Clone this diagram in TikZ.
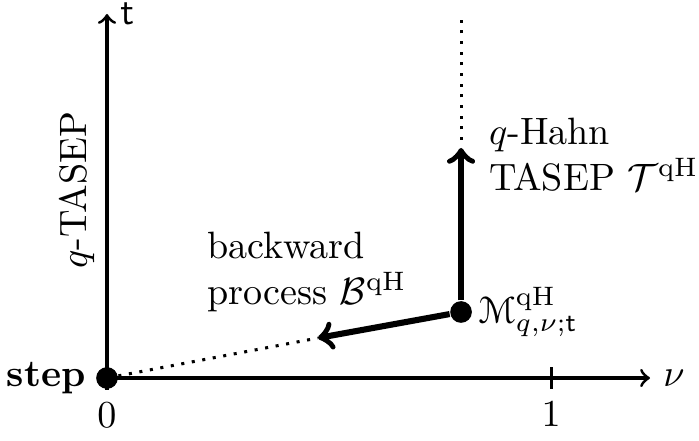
\documentclass[tikz,border=0pt]{standalone}
\usepackage{amssymb}
\usepackage{amsmath}
\usepackage[mathscr]{eucal}
\usepackage{tikz}
\usetikzlibrary{arrows,calc,positioning}

\tikzset{
  axisline/.style={thick},
  flowline/.style={line width=1.6pt},
  dotline/.style={thick,dotted},
  bigdot/.style={circle,fill=black,inner sep=0pt,minimum size=0.2cm},
}

\begin{document}
\begin{tikzpicture}[x=1cm,y=1cm]
\useasboundingbox (-0.987,-0.572) rectangle (5.461,3.487);

% Points
\coordinate (ybot) at (0,-0.11);
\coordinate (ytop) at (0,3.358);
\coordinate (xend) at (5.009,0);
\coordinate (onebot) at (4.096,-0.1);
\coordinate (onetop) at (4.096,0.1);
\coordinate (Mup) at (3.266,2.122);
\coordinate (Mdots) at (3.266,2.196);
\coordinate (Mtop) at (3.266,3.358);
\coordinate (Bend) at (1.946,0.369);

%Straight Lines: axes
\draw [axisline,->] (ybot) -- (ytop);
\draw [axisline,->] (0,0) -- (xend);
\draw [axisline] (onebot) -- (onetop);

% Shape: dots
\node [bigdot] (O) at (0,0) {};
\node [bigdot] (M) at (3.266,0.609) {};

%Straight Lines: processes
\draw [dotline] (O) -- (Bend);
\draw [flowline,->] (M) -- (Bend);
\draw [flowline,->] (M) -- (Mup);
\draw [dotline] (Mdots) -- (Mtop);

% Text Node
\node [right=0pt of ytop] (tlab) {$\mathsf{t}$};
% Text Node
\node [right=0pt of xend] (nulab) {$\nu$};
% Text Node
\node [below=0pt of ybot] (zero) {$0$};
% Text Node
\node [below=0pt of onebot] (one) {$1$};
% Text Node
\node [left=-1pt of O] (steplab) {\textbf{step}};
% Text Node
\node [rotate=90] (qtasep) at (-0.277,1.734) {$q$-TASEP};
% Text Node
\node [right=-2pt of M] (Mlab) {$\mathscr{M}^{\mathrm{qH}}_{q,\nu;\mathsf{t}}$};
% Text Node
\node [anchor=south west,align=left] (hahn) at (3.40,1.60) {$q$-Hahn\\TASEP $\mathcal{T}^{\mathrm{qH}}$};
% Text Node
\node [anchor=south west,align=left] (backw) at (0.80,0.49) {backward\\process $\mathcal{B}^{\mathrm{qH}}$};

\end{tikzpicture}
\end{document}
